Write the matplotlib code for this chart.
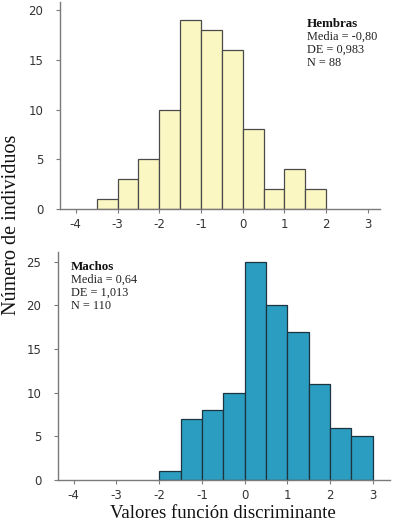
import numpy as np
import matplotlib
matplotlib.use('Agg')
import matplotlib.pyplot as plt

plt.rcParams['axes.unicode_minus'] = False

# bin left edges (width 0.5) and counts
hembras_edges = [-3.5, -3.0, -2.5, -2.0, -1.5, -1.0, -0.5, 0.0, 0.5, 1.0, 1.5]
hembras_counts = [1, 3, 5, 10, 19, 18, 16, 8, 2, 4, 2]

machos_edges = [-2.0, -1.5, -1.0, -0.5, 0.0, 0.5, 1.0, 1.5, 2.0, 2.5]
machos_counts = [1, 7, 8, 10, 25, 20, 17, 11, 6, 5]

bin_width = 0.5
x_ticks = [-4, -3, -2, -1, 0, 1, 2, 3]
hembras_yticks = [0, 5, 10, 15, 20]
machos_yticks = [0, 5, 10, 15, 20, 25]

hembras_stats = ["Media = -0,80", "DE = 0,983", "N = 88"]
machos_stats = ["Media = 0,64", "DE = 1,013", "N = 110"]

fig = plt.figure(figsize=(3.97, 5.28), dpi=100)
ax1 = fig.add_axes([0.151, 0.604, 0.806, 0.392])
ax2 = fig.add_axes([0.146, 0.091, 0.836, 0.432])


def style_axis(ax, yticks):
    for s in ['top', 'right']:
        ax.spines[s].set_visible(False)
    for s in ['left', 'bottom']:
        ax.spines[s].set_color('#7a7a7a')
        ax.spines[s].set_linewidth(1.0)
    ax.set_xticks(x_ticks)
    ax.set_yticks(yticks)
    ax.tick_params(axis='both', colors='#7a7a7a', labelcolor='#333333',
                   labelsize=8.5, length=3, width=0.8)
    ax.tick_params(axis='y', pad=9)


ax1.bar(hembras_edges, hembras_counts, width=bin_width, align='edge',
        color='#fbf7c2', edgecolor='#4a4a4a', linewidth=0.9)
ax1.set_xlim(-4.38, 3.29)
ax1.set_ylim(0, 20.8)
style_axis(ax1, hembras_yticks)

ax2.bar(machos_edges, machos_counts, width=bin_width, align='edge',
        color='#2b9dc0', edgecolor='#1c3440', linewidth=0.9)
ax2.set_xlim(-4.37, 3.4)
ax2.set_ylim(0, 26.15)
style_axis(ax2, machos_yticks)

serif = 'Liberation Serif'
fs = 8.8
ax1.text(0.772, 0.894, "Hembras", transform=ax1.transAxes, family=serif,
         fontsize=fs + 0.6, fontweight='bold', va='center', color='#111111')
for i, line in enumerate(hembras_stats):
    ax1.text(0.772, 0.831 - i * 0.063, line, transform=ax1.transAxes,
             family=serif, fontsize=fs, va='center', color='#222222')

ax2.text(0.039, 0.934, "Machos", transform=ax2.transAxes, family=serif,
         fontsize=fs + 0.6, fontweight='bold', va='center', color='#111111')
for i, line in enumerate(machos_stats):
    ax2.text(0.039, 0.877 - i * 0.057, line, transform=ax2.transAxes,
             family=serif, fontsize=fs, va='center', color='#222222')

fig.text(0.03, 1 - 225 / 528, "Número de individuos", rotation=90,
         family=serif, fontsize=14.5, ha='center', va='center', color='#111111')
fig.text(223 / 397, 1 - 514 / 528, "Valores función discriminante",
         family=serif, fontsize=13.5, ha='center', va='center', color='#111111')

fig.savefig('out.png', dpi=100)
